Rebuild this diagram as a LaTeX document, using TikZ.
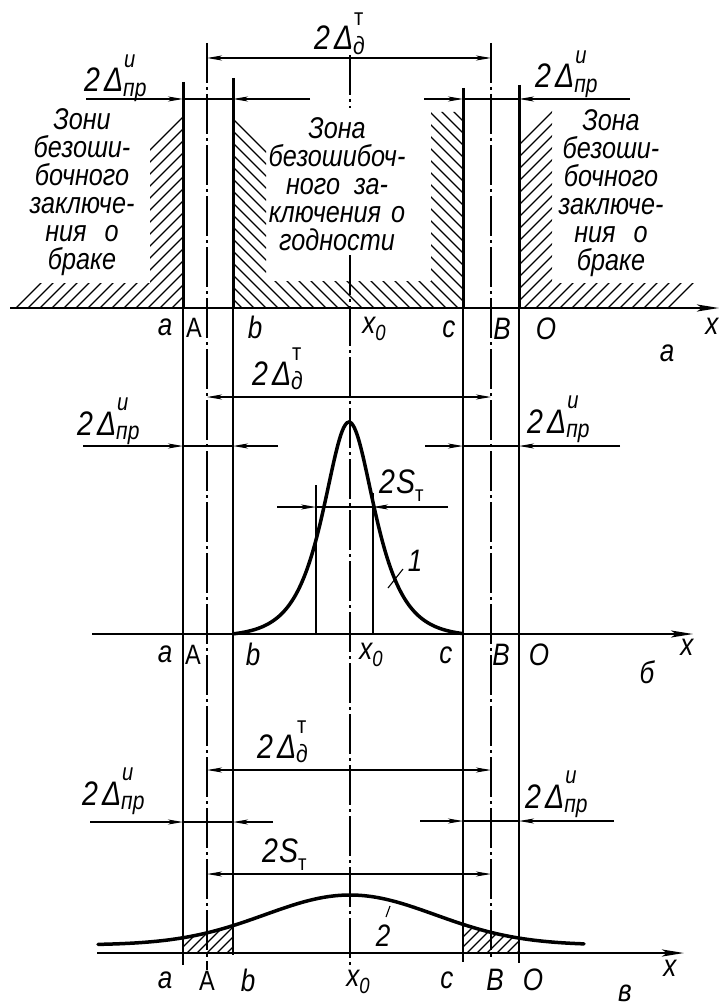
\documentclass[tikz,border=0pt]{standalone}
\usepackage{fontspec}
\setmainfont{Liberation Sans}[FakeStretch=0.84]
\usetikzlibrary{arrows.meta,calc}
\newcommand\fsz[2]{\fontsize{#1}{#2}\selectfont}
\newcommand\DLab[2]{2\kern4pt Δ\rlap{\kern1pt\raisebox{0.72em}{\fsz{24}{24}#1}}\raisebox{-0.12em}{\fsz{25}{25}#2}}
\newcommand\SLab{2\kern1pt S\raisebox{-0.25em}{\fsz{22}{22}\upshape т}}
\tikzset{
  thickln/.style={line width=3pt},
  thinln/.style={line width=1.1pt},
  axisln/.style={line width=2.6pt,-{Stealth[length=22pt,width=7pt,inset=5pt]}},
  cline/.style={line width=1.1pt,dash pattern=on 40pt off 4pt on 3pt off 4pt},
  dimln/.style={line width=1.1pt},
  dimarr/.style={line width=1.1pt,-{Stealth[length=15pt,width=5pt,inset=4pt]}},
  dimboth/.style={line width=1.1pt,{Stealth[length=15pt,width=5pt,inset=4pt]}-{Stealth[length=15pt,width=5pt,inset=4pt]}},
  hatchln/.style={line width=1.2pt},
  curveln/.style={line width=3.5pt,line cap=round},
  lbl/.style={font=\fsz{31}{31}\itshape,inner sep=0pt},
  ulbl/.style={font=\fsz{28}{28}\upshape,inner sep=0pt},
  dlab/.style={font=\fsz{34}{34}\itshape,inner sep=0pt,anchor=base west},
  zone/.style={font=\fsz{30}{28}\itshape,align=center,inner sep=0pt},
  declare function={
    sechf(\z)=2/(exp(\z)+exp(-\z));
    gA(\x)=634-212*(sechf((\x-349)/23)-0.01235)/0.98765;
    gB(\x)=953-(8+50*exp(-0.5*((\x-350)/85)*((\x-350)/85)));
  }
}
\def\xa{183}\def\xA{207}\def\xb{233}\def\xo{350}\def\xc{463}\def\xB{491}\def\xO{519}
\begin{document}
\begin{tikzpicture}[x=1pt,y=-1pt]
\useasboundingbox (0,0) rectangle (724,1006);
\fill[white] (0,0) rectangle (724,1006);

% ---------------- hatching, panel a ----------------
\begin{scope}
  \clip (12,308) -- (37,283) -- (150,283) -- (150,143) -- (183,110) -- (183,308) -- cycle;
  \foreach \s in {-320,-308,...,200} \draw[hatchln] (\s,320) -- ++(340,-340);
\end{scope}
\begin{scope}
  \clip (233,308) -- (233,118) -- (266,151) -- (266,281) -- (431,281) -- (431,112) -- (463,112) -- (463,308) -- cycle;
  \foreach \s in {-100,-88,...,480} \draw[hatchln] (\s,-10) -- ++(330,330);
\end{scope}
\begin{scope}
  \clip (519,308) -- (519,138) -- (552,105) -- (552,283) -- (702,283) -- (677,308) -- cycle;
  \foreach \s in {200,212,...,720} \draw[hatchln] (\s,320) -- ++(340,-340);
\end{scope}

% ---------------- vertical lines ----------------
\coordinate (aT) at (\xa,82);  \coordinate (aX) at (\xa,308); \coordinate (aE) at (\xa,965);
\coordinate (bT) at (\xb,78);  \coordinate (bX) at (\xb,308); \coordinate (bE) at (\xb,955);
\coordinate (cT) at (\xc,88);  \coordinate (cX) at (\xc,308); \coordinate (cE) at (\xc,962);
\coordinate (OT) at (\xO,85);  \coordinate (OX) at (\xO,308); \coordinate (OE) at (\xO,963);
\coordinate (AT) at (\xA,43);  \coordinate (AE) at (\xA,970);
\coordinate (BT) at (\xB,43);  \coordinate (BE) at (\xB,960);
\coordinate (x0T) at (\xo,55); \coordinate (x0M) at (\xo,108);
\coordinate (x0R) at (\xo,255); \coordinate (x0E) at (\xo,965);
\draw[thickln] (aT) -- (aX); \draw[thinln] (aX) -- (aE);
\draw[thickln] (bT) -- (bX); \draw[thinln] (bX) -- (bE);
\draw[thickln] (cT) -- (cX); \draw[thinln] (cX) -- (cE);
\draw[thickln] (OT) -- (OX); \draw[thinln] (OX) -- (OE);
\draw[cline] (AT) -- (AE);
\draw[cline] (BT) -- (BE);
\draw[cline] (x0T) -- (x0M);
\draw[cline] (x0R) -- (x0E);

% ---------------- axes ----------------
\coordinate (ax1s) at (10,308);  \coordinate (ax1e) at (719,308);
\coordinate (ax2s) at (92,634);  \coordinate (ax2e) at (693,634);
\coordinate (ax3s) at (97,953);  \coordinate (ax3e) at (684,953);
\draw[axisln] (ax1s) -- (ax1e);
\draw[axisln,line width=2.2pt] (ax2s) -- (ax2e);
\draw[axisln] (ax3s) -- (ax3e);

% ---------------- dimensions, panel a ----------------
\draw[dimboth] (\xA,58) -- (\xB,58);
\draw[dimarr] (86,99) -- (\xa,99); \draw[dimln] (\xa,99) -- (\xb,99); \draw[dimarr] (310,99) -- (\xb,99);
\draw[dimarr] (424,99) -- (\xc,99); \draw[dimln] (\xc,99) -- (\xO,99); \draw[dimarr] (630,99) -- (\xO,99);
\node[dlab] (d1) at (314,50) {\DLab{\upshape т}{д}};
\node[dlab] (p1l) at (84,92) {\DLab{и}{пр}};
\node[dlab] (p1r) at (535,88) {\DLab{и}{пр}};

% zone texts
\node[zone] (zl) at (82,192) {Зони\\безоши-\\бочного\\заключе-\\ния\hspace{18pt}о\\браке};
\node[zone] (zc) at (337,184) {Зона\\безошибоч-\\ного\hspace{14pt}за-\\ключения\hspace{10pt}о\\годности};
\node[zone] (zr) at (611,193) {Зона\\безоши-\\бочного\\заключе-\\ния\hspace{18pt}о\\браке};

% axis labels panel a
\node[lbl] (la1) at (165,327) {a};
\node[ulbl] (lA1) at (194,328) {A};
\node[lbl] (lb1) at (255,327) {b};
\node[lbl] (lx1) at (374,329) {x\raisebox{-0.25em}{\fsz{22}{22}0}};
\node[lbl] (lc1) at (449,329) {c};
\node[lbl] (lB1) at (502,329) {B};
\node[lbl] (lO1) at (546,329) {O};
\node[lbl] (xx1) at (712,326) {x};
\node[lbl] (pa) at (667,353) {а};

% ---------------- panel б ----------------
\draw[dimboth] (\xA,397) -- (\xB,397);
\draw[dimarr] (83,446) -- (\xa,446); \draw[dimln] (\xa,446) -- (\xb,446); \draw[dimarr] (278,446) -- (\xb,446);
\draw[dimarr] (425,446) -- (\xc,446); \draw[dimln] (\xc,446) -- (\xO,446); \draw[dimarr] (620,446) -- (\xO,446);
\node[dlab] (d2) at (252,385) {\DLab{\upshape т}{д}};
\node[dlab] (p2l) at (77,435) {\DLab{и}{пр}};
\node[dlab] (p2r) at (527,433) {\DLab{и}{пр}};
% 2S
\coordinate (s1T) at (316,485); \coordinate (s1B) at (316,634);
\coordinate (s2T) at (373,493); \coordinate (s2B) at (373,634);
\draw[thinln] (s1T) -- (s1B);
\draw[thinln] (s2T) -- (s2B);
\draw[dimarr] (277,507) -- (316,507); \draw[dimln] (316,507) -- (373,507); \draw[dimarr] (448,507) -- (373,507);
\node[dlab] (s2l) at (379,493) {\SLab};
% curve 1
\draw[curveln] plot[domain=233:463,samples=140,smooth] (\x,{gA(\x)});
\coordinate (k1a) at (388,588); \coordinate (k1b) at (403,569);
\draw[thinln] (k1a) -- (k1b);
\node[lbl] (n1) at (415,561) {1};
% labels
\node[lbl] (la2) at (165,654) {a};
\node[ulbl] (lA2) at (193,655) {A};
\node[lbl] (lb2) at (253,654) {b};
\node[lbl] (lx2) at (371,655) {x\raisebox{-0.25em}{\fsz{22}{22}0}};
\node[lbl] (lc2) at (446,655) {c};
\node[lbl] (lB2) at (501,655) {B};
\node[lbl] (lO2) at (539,655) {O};
\node[lbl] (xx2) at (687,647) {x};
\node[lbl] (pb) at (647,672) {б};

% ---------------- panel в ----------------
\begin{scope}
  \clip (\xa,953) -- plot[domain=\xa:\xb,samples=20] (\x,{gB(\x)}) -- (\xb,953) -- cycle;
  \foreach \s in {150,160,...,260} \draw[hatchln] (\s,960) -- ++(40,-40);
\end{scope}
\begin{scope}
  \clip (\xc,953) -- plot[domain=\xc:\xO,samples=20] (\x,{gB(\x)}) -- (\xO,953) -- cycle;
  \foreach \s in {430,440,...,530} \draw[hatchln] (\s,960) -- ++(40,-40);
\end{scope}
\draw[line width=2.6pt] (\xa,{gB(\xa)}) -- (\xa,953);
\draw[line width=2.6pt] (\xb,{gB(\xb)}) -- (\xb,953);
\draw[line width=2pt] (\xc,{gB(\xc)}) -- (\xc,953);
\draw[curveln] plot[domain=98:584,samples=150,smooth] (\x,{gB(\x)});
\coordinate (k2a) at (386,917); \coordinate (k2b) at (390,906);
\draw[thinln] (k2a) -- (k2b);
\node[lbl] (n2) at (383,936) {2};
\draw[dimboth] (\xA,770) -- (\xB,770);
\draw[dimarr] (90,822) -- (\xa,822); \draw[dimln] (\xa,822) -- (\xb,822); \draw[dimarr] (273,822) -- (\xb,822);
\draw[dimarr] (420,821) -- (\xc,821); \draw[dimln] (\xc,821) -- (\xO,821); \draw[dimarr] (614,821) -- (\xO,821);
\draw[dimboth] (\xA,874) -- (\xB,874);
\node[dlab] (d3) at (257,758) {\DLab{\upshape т}{д}};
\node[dlab] (p3l) at (82,805) {\DLab{и}{пр}};
\node[dlab] (p3r) at (525,808) {\DLab{и}{пр}};
\node[dlab] (s3l) at (262,862) {\SLab};
% labels
\node[lbl] (la3) at (165,980) {a};
\node[ulbl] (lA3) at (207,981) {A};
\node[lbl] (lb3) at (248,980) {b};
\node[lbl] (lx3) at (358,982) {x\raisebox{-0.25em}{\fsz{22}{22}0}};
\node[lbl] (lc3) at (447,980) {c};
\node[lbl] (lB3) at (495,980) {B};
\node[lbl] (lO3) at (533,980) {O};
\node[lbl] (xx3) at (670,968) {x};
\node[lbl] (pv) at (625,993) {в};
\end{tikzpicture}
\end{document}
